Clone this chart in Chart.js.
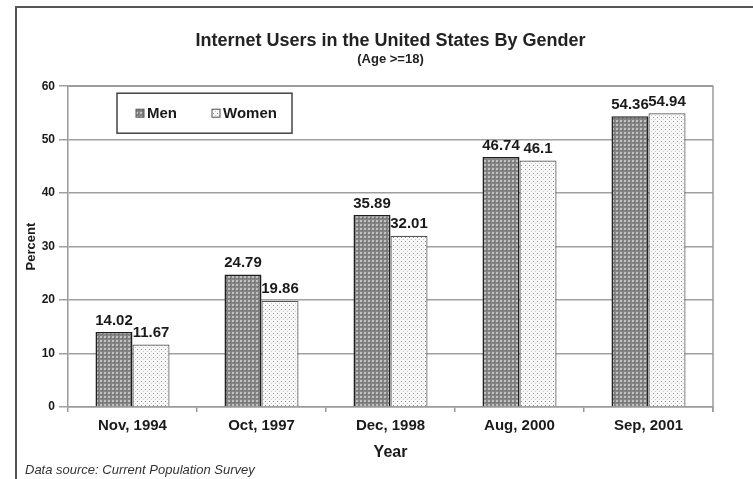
<!DOCTYPE html>
<html>
<head>
<meta charset="utf-8">
<script src="https://cdn.jsdelivr.net/npm/chart.js@4"></script>
<style>
  html, body { margin: 0; padding: 0; background: #fff; }
  #wrap { width: 753px; height: 479px; position: relative; }
</style>
</head>
<body>
<div id="wrap"><canvas id="c" width="753" height="479"></canvas></div>
<script>
const categories = ["Nov, 1994", "Oct, 1997", "Dec, 1998", "Aug, 2000", "Sep, 2001"];
const menValues = [14.02, 24.79, 35.89, 46.74, 54.36];
const womenValues = [11.67, 19.86, 32.01, 46.1, 54.94];
const seriesNames = ["Men", "Women"];
const titleText = "Internet Users in the United States By Gender";
const subtitleText = "(Age >=18)";
const yTitle = "Percent";
const xTitle = "Year";
const sourceText = "Data source: Current Population Survey";
const yMin = 0, yMax = 60, yStep = 10;

function makePattern(bg, dots) {
  const t = document.createElement('canvas');
  t.width = 4; t.height = 4;
  const g = t.getContext('2d');
  g.fillStyle = bg; g.fillRect(0, 0, 4, 4);
  dots.forEach(d => { g.fillStyle = d[2]; g.fillRect(d[0], d[1], d[3], d[3]); });
  return g.createPattern(t, 'repeat');
}
const ctx0 = document.getElementById('c').getContext('2d');
const menPattern = makePattern('#848484', [[0, 0, '#c0c0c0', 2], [2, 2, '#626262', 1]]);
const womenPattern = makePattern('#f8f8f8', [[1, 1, '#8e8e8e', 1], [3, 3, '#c8c8c8', 1]]);

const FONT = "'Liberation Sans', Arial, sans-serif";

const decorPlugin = {
  id: 'decor',
  beforeDraw(chart) {
    const c = chart.ctx;
    c.save();
    c.fillStyle = '#fff';
    c.fillRect(0, 0, chart.width, chart.height);
    c.restore();
  },
  afterDatasetsDraw(chart) {
    const c = chart.ctx;
    const a = chart.chartArea;
    c.save();
    c.strokeStyle = '#9a9a9a';
    c.lineWidth = 1.5;
    c.beginPath();
    c.moveTo(a.left, a.top);
    c.lineTo(a.right, a.top);
    c.lineTo(a.right, a.bottom + 5);
    c.stroke();
    c.font = "bold 15px " + FONT;
    c.fillStyle = '#1a1a1a';
    c.textAlign = 'center';
    c.textBaseline = 'bottom';
    chart.data.datasets.forEach((ds, i) => {
      const meta = chart.getDatasetMeta(i);
      meta.data.forEach((el, j) => {
        c.fillText(String(ds.data[j]), el.x, el.y - 4);
      });
    });
    const lx = a.left + 49, ly = a.top + 7, lw = 175, lh = 40;
    c.fillStyle = '#fff';
    c.fillRect(lx, ly, lw, lh);
    c.strokeStyle = '#444';
    c.lineWidth = 1.5;
    c.strokeRect(lx, ly, lw, lh);
    const itemX = [lx + 19, lx + 95];
    c.font = "bold 15px " + FONT;
    c.textAlign = 'left';
    c.textBaseline = 'middle';
    chart.data.datasets.forEach((ds, i) => {
      const sx = itemX[i], sy = ly + lh / 2;
      c.fillStyle = ds.backgroundColor;
      c.fillRect(sx, sy - 4, 8, 8);
      c.strokeStyle = '#555';
      c.lineWidth = 1;
      c.strokeRect(sx, sy - 4, 8, 8);
      c.fillStyle = '#1a1a1a';
      c.fillText(ds.label, sx + 11, sy + 1);
    });
    c.restore();
  },
  afterDraw(chart) {
    const c = chart.ctx;
    c.save();
    c.strokeStyle = '#555';
    c.lineWidth = 2;
    c.beginPath();
    c.moveTo(16, chart.height);
    c.lineTo(16, 7);
    c.lineTo(chart.width, 7);
    c.stroke();
    c.font = "italic 13px " + FONT;
    c.fillStyle = '#333';
    c.textAlign = 'left';
    c.textBaseline = 'middle';
    c.fillText(sourceText, 25, 470);
    c.restore();
  }
};

new Chart(ctx0, {
  type: 'bar',
  data: {
    labels: categories,
    datasets: [
      { label: seriesNames[0], data: menValues, backgroundColor: menPattern, borderColor: '#1e1e1e', borderWidth: 1.5 },
      { label: seriesNames[1], data: womenValues, backgroundColor: womenPattern, borderColor: '#555', borderWidth: 1.2 }
    ]
  },
  options: {
    responsive: false,
    animation: false,
    events: [],
    layout: { padding: { top: 0, left: 16, right: 40, bottom: 0 } },
    datasets: { bar: { categoryPercentage: 0.574, barPercentage: 1.0 } },
    plugins: {
      legend: { display: false },
      tooltip: { enabled: false },
      title: {
        display: true, fullSize: false, text: titleText, color: '#222',
        font: { family: FONT, size: 18, weight: 'bold' },
        padding: { top: 30, bottom: 0 }
      },
      subtitle: {
        display: true, fullSize: false, text: subtitleText, color: '#222',
        font: { family: FONT, size: 13, weight: 'bold' },
        padding: { top: 0, bottom: 19 }
      }
    },
    scales: {
      x: {
        offset: true,
        grid: { offset: true, drawOnChartArea: false, drawTicks: true, tickLength: 5, color: '#9a9a9a', lineWidth: 1.5 },
        border: { display: true, color: '#9a9a9a', width: 1.5 },
        ticks: { color: '#1a1a1a', font: { family: FONT, size: 15, weight: 'bold' }, padding: 5, maxRotation: 0 },
        title: { display: true, text: xTitle, color: '#1a1a1a', font: { family: FONT, size: 16, weight: 'bold' }, padding: { top: 0, bottom: 17 } },
        afterFit(s) { s.height = 72; }
      },
      y: {
        min: yMin, max: yMax,
        grid: { color: '#a0a0a0', lineWidth: 1.5, tickLength: 9, drawTicks: true },
        border: { display: true, color: '#9a9a9a', width: 1.5 },
        ticks: { stepSize: yStep, color: '#1a1a1a', font: { family: FONT, size: 12, weight: 'bold' }, padding: 4 },
        title: { display: true, text: yTitle, color: '#1a1a1a', font: { family: FONT, size: 13, weight: 'bold' }, padding: { top: 8, bottom: 0 } },
        afterFit(s) { s.width = 52; }
      }
    }
  },
  plugins: [decorPlugin]
});
</script>
</body>
</html>
